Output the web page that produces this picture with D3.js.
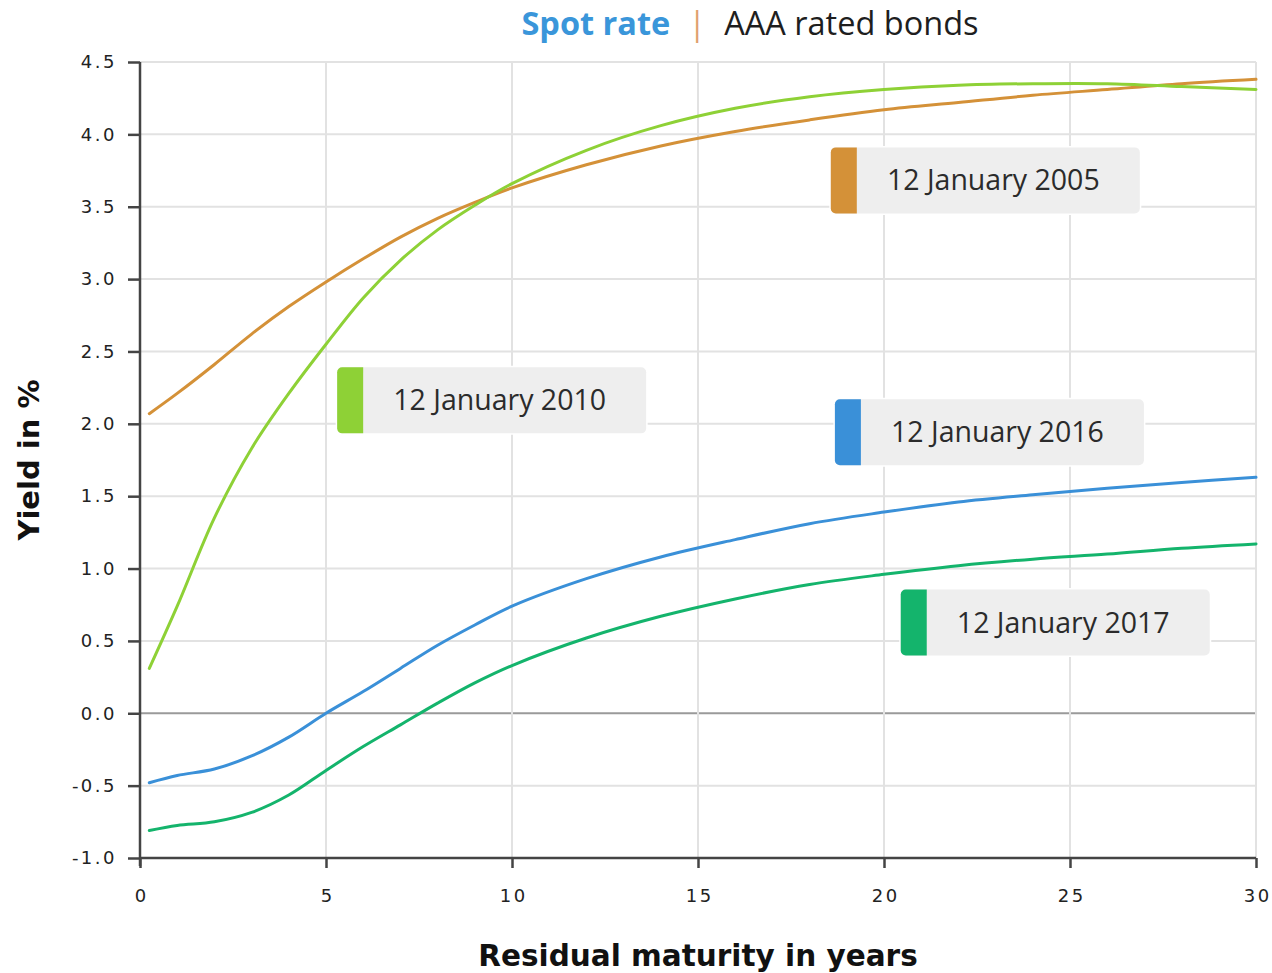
<!DOCTYPE html>
<html>
<head>
<meta charset="utf-8">
<script src="https://cdn.jsdelivr.net/npm/d3@7"></script>
<style>
  html, body { margin: 0; padding: 0; background: #fff; }
  svg { display: block; }
</style>
</head>
<body>
<svg id="chart" width="1272" height="973"></svg>
<script>
// Residual maturities (years) at which each spot curve is sampled
const maturities = [0.25, 1, 2, 3, 4, 5, 6, 7, 8, 9, 10, 12, 14, 16, 18, 20, 22, 24, 26, 28, 30];

// Spot rates, AAA rated bonds (%)
const jan2005 = [2.07, 2.21, 2.41, 2.62, 2.81, 2.98, 3.14, 3.29, 3.42, 3.53, 3.63, 3.79, 3.92, 4.02, 4.10, 4.17, 4.22, 4.27, 4.31, 4.35, 4.38];
const jan2010 = [0.31, 0.74, 1.35, 1.83, 2.21, 2.55, 2.87, 3.13, 3.34, 3.51, 3.66, 3.89, 4.06, 4.18, 4.26, 4.31, 4.34, 4.35, 4.35, 4.33, 4.31];
const jan2016 = [-0.48, -0.43, -0.385, -0.295, -0.165, 0.00, 0.15, 0.31, 0.47, 0.61, 0.74, 0.93, 1.08, 1.20, 1.31, 1.39, 1.46, 1.51, 1.555, 1.595, 1.63];
const jan2017 = [-0.81, -0.775, -0.75, -0.685, -0.565, -0.395, -0.23, -0.08, 0.07, 0.21, 0.33, 0.52, 0.67, 0.79, 0.89, 0.96, 1.02, 1.065, 1.10, 1.14, 1.17];

const seriesNames = ["12 January 2005", "12 January 2010", "12 January 2016", "12 January 2017"];
const seriesValues = [jan2005, jan2010, jan2016, jan2017];

// Axis ticks
const xTicks = [0, 5, 10, 15, 20, 25, 30];
const yTicks = [-1.0, -0.5, 0.0, 0.5, 1.0, 1.5, 2.0, 2.5, 3.0, 3.5, 4.0, 4.5];

// Presentation
const colors = ["#d49138", "#8ed136", "#3a90d8", "#14b46c"];
// Top-left corner of each label box, in data units (years, %)
const labelAnchors = [[18.57, 3.91], [5.3, 2.39], [18.68, 2.17], [20.45, 0.855]];

const svg = d3.select("#chart");
const margin = { left: 140, right: 16, top: 62, bottom: 115 };
const W = 1272, H = 973;

const x = d3.scaleLinear().domain([0, 30]).range([margin.left, W - margin.right]);
const y = d3.scaleLinear().domain([-1, 4.5]).range([H - margin.bottom, margin.top]);

// Grid
const grid = svg.append("g");
grid.selectAll("line.h").data(yTicks).join("line")
  .attr("x1", x(0)).attr("x2", x(30))
  .attr("y1", d => y(d)).attr("y2", d => y(d))
  .attr("stroke", d => d === 0 ? "#9a9a9a" : "#e2e2e2")
  .attr("stroke-width", 2);
grid.selectAll("line.v").data(xTicks.filter(d => d > 0)).join("line")
  .attr("x1", d => x(d)).attr("x2", d => x(d))
  .attr("y1", y(4.5)).attr("y2", y(-1))
  .attr("stroke", "#e2e2e2")
  .attr("stroke-width", 2);

// Axes
const tickFont = "'DejaVu Sans', Verdana, sans-serif";
const yAxis = svg.append("g")
  .attr("transform", `translate(${x(0)},0)`)
  .call(d3.axisLeft(y).tickValues(yTicks).tickFormat(d3.format(".1f")).tickSize(12).tickPadding(11));
const xAxis = svg.append("g")
  .attr("transform", `translate(0,${y(-1)})`)
  .call(d3.axisBottom(x).tickValues(xTicks).tickFormat(d3.format("d")).tickSize(10).tickPadding(21));

[yAxis, xAxis].forEach(a => {
  a.select(".domain").attr("stroke", "#444").attr("stroke-width", 2.5);
  a.selectAll(".tick line").attr("stroke", "#444").attr("stroke-width", 2.5);
  a.selectAll(".tick text")
    .attr("fill", "#222")
    .style("font-family", tickFont)
    .style("font-size", "18px")
    .style("letter-spacing", "2.5px");
});
yAxis.selectAll(".tick text").text(d => d3.format(".1f")(d).replace("−", "-"));
xAxis.selectAll(".tick text").attr("dx", "1.2px");
yAxis.select(".domain").attr("d", `M0,${y(4.5)}V${y(-1) + 8}`);
xAxis.select(".domain").attr("d", `M${x(0)},0H${x(30)}`);

// Curves
const line = d3.line()
  .x((d, i) => x(maturities[i]))
  .y(d => y(d))
  .curve(d3.curveCatmullRom.alpha(0.5));

svg.append("g").selectAll("path").data(seriesValues).join("path")
  .attr("d", line)
  .attr("fill", "none")
  .attr("stroke", (d, i) => colors[i])
  .attr("stroke-width", 3)
  .attr("stroke-linejoin", "round")
  .attr("stroke-linecap", "round");

// Series labels
const boxW = 309, boxH = 66, barW = 26, r = 5;
const labels = svg.append("g").selectAll("g").data(seriesNames).join("g")
  .attr("transform", (d, i) => `translate(${x(labelAnchors[i][0])},${y(labelAnchors[i][1])})`);
labels.append("rect")
  .attr("x", -1.5).attr("y", -1.5).attr("width", boxW + 3).attr("height", boxH + 3)
  .attr("rx", r + 1).attr("fill", "#fff");
labels.append("rect")
  .attr("width", boxW).attr("height", boxH).attr("rx", r)
  .attr("fill", "#eeeeee");
labels.append("path")
  .attr("d", `M${barW},0H${r}A${r},${r} 0 0 0 0,${r}V${boxH - r}A${r},${r} 0 0 0 ${r},${boxH}H${barW}Z`)
  .attr("fill", (d, i) => colors[i]);
labels.append("text")
  .attr("x", barW + (boxW - barW) / 2 - 5)
  .attr("y", boxH / 2 + 10)
  .attr("text-anchor", "middle")
  .attr("fill", "#2b2b2b")
  .style("font-family", "'Open Sans', sans-serif")
  .style("font-size", "28.5px")
  .text(d => d);

// Title
const title = svg.append("text")
  .attr("x", 750).attr("y", 35)
  .attr("text-anchor", "middle")
  .style("font-family", "'Open Sans', sans-serif")
  .style("font-size", "32.5px");
title.append("tspan").attr("fill", "#3a96da").attr("font-weight", "bold").text("Spot rate");
title.append("tspan").attr("fill", "#e0a070").attr("dx", 18).text("|");
title.append("tspan").attr("fill", "#1e1e1e").attr("dx", 18).text("AAA rated bonds");

// Axis titles
svg.append("text")
  .attr("transform", `translate(39,${(y(4.5) + y(-1)) / 2}) rotate(-90)`)
  .attr("text-anchor", "middle")
  .attr("fill", "#111")
  .style("font-family", "'DejaVu Sans', Verdana, sans-serif")
  .style("font-weight", "bold")
  .style("font-size", "29px")
  .text("Yield in %");
svg.append("text")
  .attr("x", (x(0) + x(30)) / 2).attr("y", 966)
  .attr("text-anchor", "middle")
  .attr("fill", "#111")
  .style("font-family", "'DejaVu Sans', Verdana, sans-serif")
  .style("font-weight", "bold")
  .style("font-size", "29.5px")
  .text("Residual maturity in years");
</script>
</body>
</html>
